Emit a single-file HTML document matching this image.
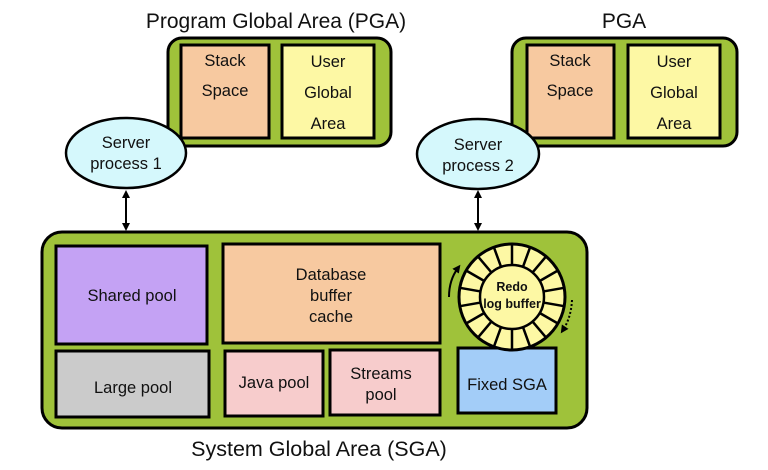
<!DOCTYPE html>
<html><head><meta charset="utf-8"><style>
html,body{margin:0;padding:0;background:#fff;}
svg{display:block;}
text{font-family:"Liberation Sans",Arial,sans-serif;fill:#111;}
</style></head><body>
<svg width="768" height="470" viewBox="0 0 768 470" xmlns="http://www.w3.org/2000/svg">
<defs>
<marker id="ah" markerWidth="8" markerHeight="8" refX="4" refY="4" orient="auto-start-reverse" markerUnits="userSpaceOnUse"><path d="M0,0 L8,4 L0,8 z" fill="#000"/></marker>
</defs>
<text x="276" y="28" font-size="21" text-anchor="middle">Program Global Area (PGA)</text>
<text x="624" y="28" font-size="21" text-anchor="middle">PGA</text>

<!-- PGA1 -->
<rect x="168" y="38" width="223" height="108" rx="14" fill="#9fc23a" stroke="#000" stroke-width="3"/>
<rect x="181" y="45" width="88" height="93" fill="#f7c9a0" stroke="#000" stroke-width="3"/>
<rect x="282" y="45" width="92" height="93" fill="#fdf8a4" stroke="#000" stroke-width="3"/>
<text x="225" y="66" font-size="16.5" text-anchor="middle">Stack</text>
<text x="225" y="96" font-size="16.5" text-anchor="middle">Space</text>
<text x="328" y="67" font-size="16.5" text-anchor="middle">User</text>
<text x="328" y="98" font-size="16.5" text-anchor="middle">Global</text>
<text x="328" y="129" font-size="16.5" text-anchor="middle">Area</text>
<ellipse cx="126" cy="153" rx="60" ry="35" fill="#d5f8fc" stroke="#000" stroke-width="2.5"/>
<text x="126" y="148" font-size="16.5" text-anchor="middle">Server</text>
<text x="126" y="169" font-size="16.5" text-anchor="middle">process 1</text>

<!-- PGA2 -->
<rect x="512" y="38" width="225" height="108" rx="14" fill="#9fc23a" stroke="#000" stroke-width="3"/>
<rect x="527" y="45" width="87" height="93" fill="#f7c9a0" stroke="#000" stroke-width="3"/>
<rect x="628" y="45" width="92" height="93" fill="#fdf8a4" stroke="#000" stroke-width="3"/>
<text x="570" y="66" font-size="16.5" text-anchor="middle">Stack</text>
<text x="570" y="96" font-size="16.5" text-anchor="middle">Space</text>
<text x="674" y="67" font-size="16.5" text-anchor="middle">User</text>
<text x="674" y="98" font-size="16.5" text-anchor="middle">Global</text>
<text x="674" y="129" font-size="16.5" text-anchor="middle">Area</text>
<ellipse cx="478" cy="154" rx="61" ry="35" fill="#d5f8fc" stroke="#000" stroke-width="2.5"/>
<text x="478" y="150" font-size="16.5" text-anchor="middle">Server</text>
<text x="478" y="171" font-size="16.5" text-anchor="middle">process 2</text>

<!-- arrows -->
<line x1="126" y1="194" x2="126" y2="227" stroke="#000" stroke-width="2" marker-start="url(#ah)" marker-end="url(#ah)"/>
<line x1="478" y1="194" x2="478" y2="227" stroke="#000" stroke-width="2" marker-start="url(#ah)" marker-end="url(#ah)"/>

<!-- SGA -->
<rect x="42" y="232" width="545" height="196" rx="20" fill="#9fc23a" stroke="#000" stroke-width="3"/>
<rect x="56" y="246" width="151" height="98" fill="#c4a2f4" stroke="#000" stroke-width="3"/>
<text x="132" y="301" font-size="16.5" text-anchor="middle">Shared pool</text>
<rect x="223" y="244" width="217" height="99" fill="#f7c9a0" stroke="#000" stroke-width="3"/>
<text x="331" y="280" font-size="16.5" text-anchor="middle">Database</text>
<text x="331" y="301" font-size="16.5" text-anchor="middle">buffer</text>
<text x="331" y="322" font-size="16.5" text-anchor="middle">cache</text>
<rect x="56" y="351" width="153" height="66" fill="#cbcbcb" stroke="#000" stroke-width="3"/>
<text x="133" y="393" font-size="16.5" text-anchor="middle">Large pool</text>
<rect x="225" y="351" width="98" height="65" fill="#f7cccc" stroke="#000" stroke-width="3"/>
<text x="274" y="388" font-size="16.5" text-anchor="middle">Java pool</text>
<rect x="330" y="350" width="110" height="65" fill="#f7cccc" stroke="#000" stroke-width="3"/>
<text x="381" y="379" font-size="16.5" text-anchor="middle">Streams</text>
<text x="381" y="400" font-size="16.5" text-anchor="middle">pool</text>
<rect x="458" y="348" width="98" height="65" fill="#a3cdf8" stroke="#000" stroke-width="3"/>
<text x="507" y="390" font-size="16.5" text-anchor="middle">Fixed SGA</text>

<!-- Redo ring -->
<g transform="translate(512,297)">
<circle r="53" fill="#fdf8a4" stroke="#000" stroke-width="3"/>
<g stroke="#000" stroke-width="2.5">
<line x1="0" y1="-32" x2="0" y2="-53" transform="rotate(0)"/>
<line x1="0" y1="-32" x2="0" y2="-53" transform="rotate(20)"/>
<line x1="0" y1="-32" x2="0" y2="-53" transform="rotate(40)"/>
<line x1="0" y1="-32" x2="0" y2="-53" transform="rotate(60)"/>
<line x1="0" y1="-32" x2="0" y2="-53" transform="rotate(80)"/>
<line x1="0" y1="-32" x2="0" y2="-53" transform="rotate(100)"/>
<line x1="0" y1="-32" x2="0" y2="-53" transform="rotate(120)"/>
<line x1="0" y1="-32" x2="0" y2="-53" transform="rotate(140)"/>
<line x1="0" y1="-32" x2="0" y2="-53" transform="rotate(160)"/>
<line x1="0" y1="-32" x2="0" y2="-53" transform="rotate(180)"/>
<line x1="0" y1="-32" x2="0" y2="-53" transform="rotate(200)"/>
<line x1="0" y1="-32" x2="0" y2="-53" transform="rotate(220)"/>
<line x1="0" y1="-32" x2="0" y2="-53" transform="rotate(240)"/>
<line x1="0" y1="-32" x2="0" y2="-53" transform="rotate(260)"/>
<line x1="0" y1="-32" x2="0" y2="-53" transform="rotate(280)"/>
<line x1="0" y1="-32" x2="0" y2="-53" transform="rotate(300)"/>
<line x1="0" y1="-32" x2="0" y2="-53" transform="rotate(320)"/>
<line x1="0" y1="-32" x2="0" y2="-53" transform="rotate(340)"/>
</g>
<circle r="32" fill="#fdf8a4" stroke="#000" stroke-width="2.5"/>
<text x="0" y="-6" font-size="12.5" font-weight="bold" text-anchor="middle">Redo</text>
<text x="0" y="11" font-size="12.5" font-weight="bold" text-anchor="middle">log buffer</text>
</g>
<path d="M449,297 Q449,280 458,268" fill="none" stroke="#000" stroke-width="2" marker-end="url(#ah)"/>
<path d="M572,300 Q571,318 563,330" fill="none" stroke="#000" stroke-width="2" stroke-dasharray="2,2" marker-end="url(#ah)"/>

<text x="319" y="456" font-size="21.5" text-anchor="middle">System Global Area (SGA)</text>
</svg>
</body></html>
